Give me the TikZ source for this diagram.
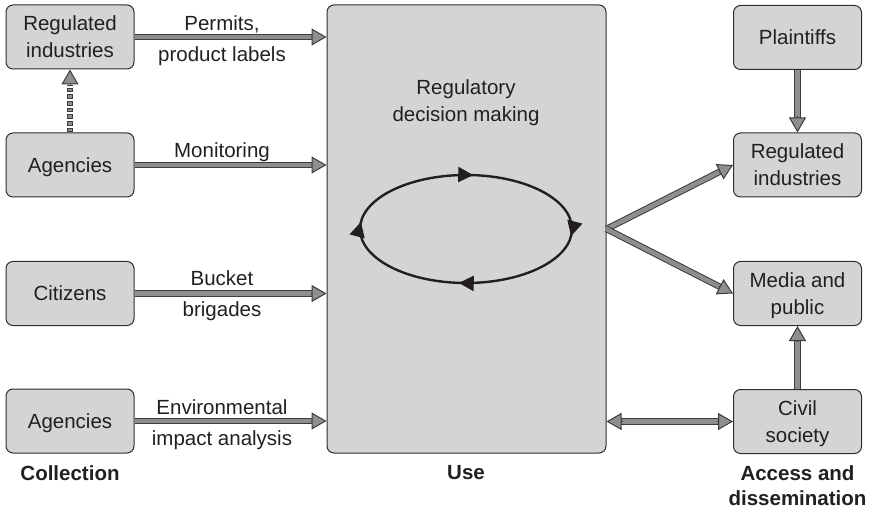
\documentclass[tikz,border=0pt]{standalone}
\usepackage{fontspec}
\setmainfont{Liberation Sans}
\usetikzlibrary{arrows.meta,calc,decorations.markings}

\definecolor{boxfill}{HTML}{D3D4D6}
\definecolor{boxedge}{HTML}{2E2E2E}
\definecolor{arrfill}{HTML}{8E8E8E}
\definecolor{arredge}{HTML}{3C3C3C}
\definecolor{ink}{HTML}{231F20}

\tikzset{
  txt/.style={text=ink, font=\fontsize{20.5}{27}\selectfont},
  box/.style={txt, draw=boxedge, fill=boxfill, line width=1pt,
    rounded corners=7pt, minimum width=128pt, minimum height=64pt,
    align=center, inner sep=0pt, text depth=0pt},
  lbl/.style={txt, anchor=base, inner sep=0pt},
  heading/.style={lbl, font=\fontsize{20.5}{25}\selectfont\bfseries, align=center},
  shaft/.style={line width=1pt, draw=arredge, double=arrfill, double distance=4.5pt},
  fathead/.style={draw=arredge, line width=1pt,
    -{Triangle[length=15pt,width=17pt,fill=arrfill]}},
  looptip/.style={},
  loop/.style={draw=ink, line width=2.4pt,
    decoration={markings,
      mark=at position 0.014 with {\arrow{Triangle[length=15pt,width=15pt]}},
      mark=at position 0.264 with {\arrow{Triangle[length=15pt,width=15pt]}},
      mark=at position 0.514 with {\arrow{Triangle[length=15pt,width=15pt]}},
      mark=at position 0.764 with {\arrow{Triangle[length=15pt,width=15pt]}}},
    postaction={decorate}},
}

% wide grey arrow with an outlined triangular head
\newcommand{\fatarrow}[2]{%
  \draw[shaft, shorten >=12pt] (#1) -- (#2);
  \draw[fathead] ($(#2)!16pt!(#1)$) -- (#2);
}
% same, with a head at both ends
\newcommand{\fatboth}[2]{%
  \draw[shaft, shorten >=12pt, shorten <=12pt] (#1) -- (#2);
  \draw[fathead] ($(#2)!16pt!(#1)$) -- (#2);
  \draw[fathead] ($(#1)!16pt!(#2)$) -- (#1);
}

\begin{document}
\begin{tikzpicture}[x=1pt,y=-1pt]
  \useasboundingbox (0,0) rectangle (877,510);

  % central block (multi-line base anchors sit on the last line)
  \node[box, minimum width=279pt, minimum height=448pt] (use) at (466.5,229) {};
  \node[lbl, align=center] (udec) at (466,122) {Regulatory\\decision making};

  % collection side
  \node[box] (reg)  at (70,37)    {Regulated\\industries};
  \node[box] (ag1)  at (70,165)   {Agencies};
  \node[box] (cit)  at (70,293.5) {Citizens};
  \node[box] (ag2)  at (70,421)   {Agencies};

  % access and dissemination side
  \node[box] (pla)  at (797.5,37.5)  {Plaintiffs};
  \node[box] (reg2) at (797.5,165)   {Regulated\\industries};
  \node[box] (med)  at (797.5,293.5) {Media and\\public};
  \node[box] (civ)  at (797.5,421.5) {Civil\\society};

  % inflows
  \fatarrow{reg.east}{reg.east -| use.west}
  \fatarrow{ag1.east}{ag1.east -| use.west}
  \fatarrow{cit.east}{cit.east -| use.west}
  \fatarrow{ag2.east}{ag2.east -| use.west}

  \node[lbl] (l1a) at (222,30.5)  {Permits,};
  \node[lbl] (l1b) at (222,61.5)  {product labels};
  \node[lbl] (l2a) at (222,158)   {Monitoring};
  \node[lbl] (l3a) at (222,285.5) {Bucket};
  \node[lbl] (l3b) at (222,316.5) {brigades};
  \node[lbl] (l4a) at (222,414.5) {Environmental};
  \node[lbl] (l4b) at (222,445.5) {impact analysis};

  % dotted link from agencies to regulated industries
  \coordinate (dtop) at ($(reg.south)+(0,16)$);
  \draw[arredge, line width=6pt, dash pattern=on 4.7pt off 2pt] (ag1.north) -- (dtop);
  \draw[arrfill, line width=3.8pt, dash pattern=on 2.7pt off 4pt, dash phase=5.7pt] (ag1.north) -- (dtop);
  \draw[fathead] (dtop) -- (reg.south);

  % decision cycle
  \draw[loop] (466,229) ellipse [x radius=106, y radius=54];

  % outflows
  \coordinate (fan) at (use.east);
  \fatarrow{fan}{reg2.west}
  \fatarrow{fan}{med.west}
  \fatboth{civ.west -| use.east}{civ.west}
  \fatarrow{pla.south}{reg2.north}
  \fatarrow{civ.north}{med.south}

  % column headings
  \node[heading] (hcol) at (70,480)    {Collection};
  \node[heading] (huse) at (466,479)   {Use};
  \node[heading] (hacc) at (797.5,505) {Access and\\dissemination};
\end{tikzpicture}
\end{document}
